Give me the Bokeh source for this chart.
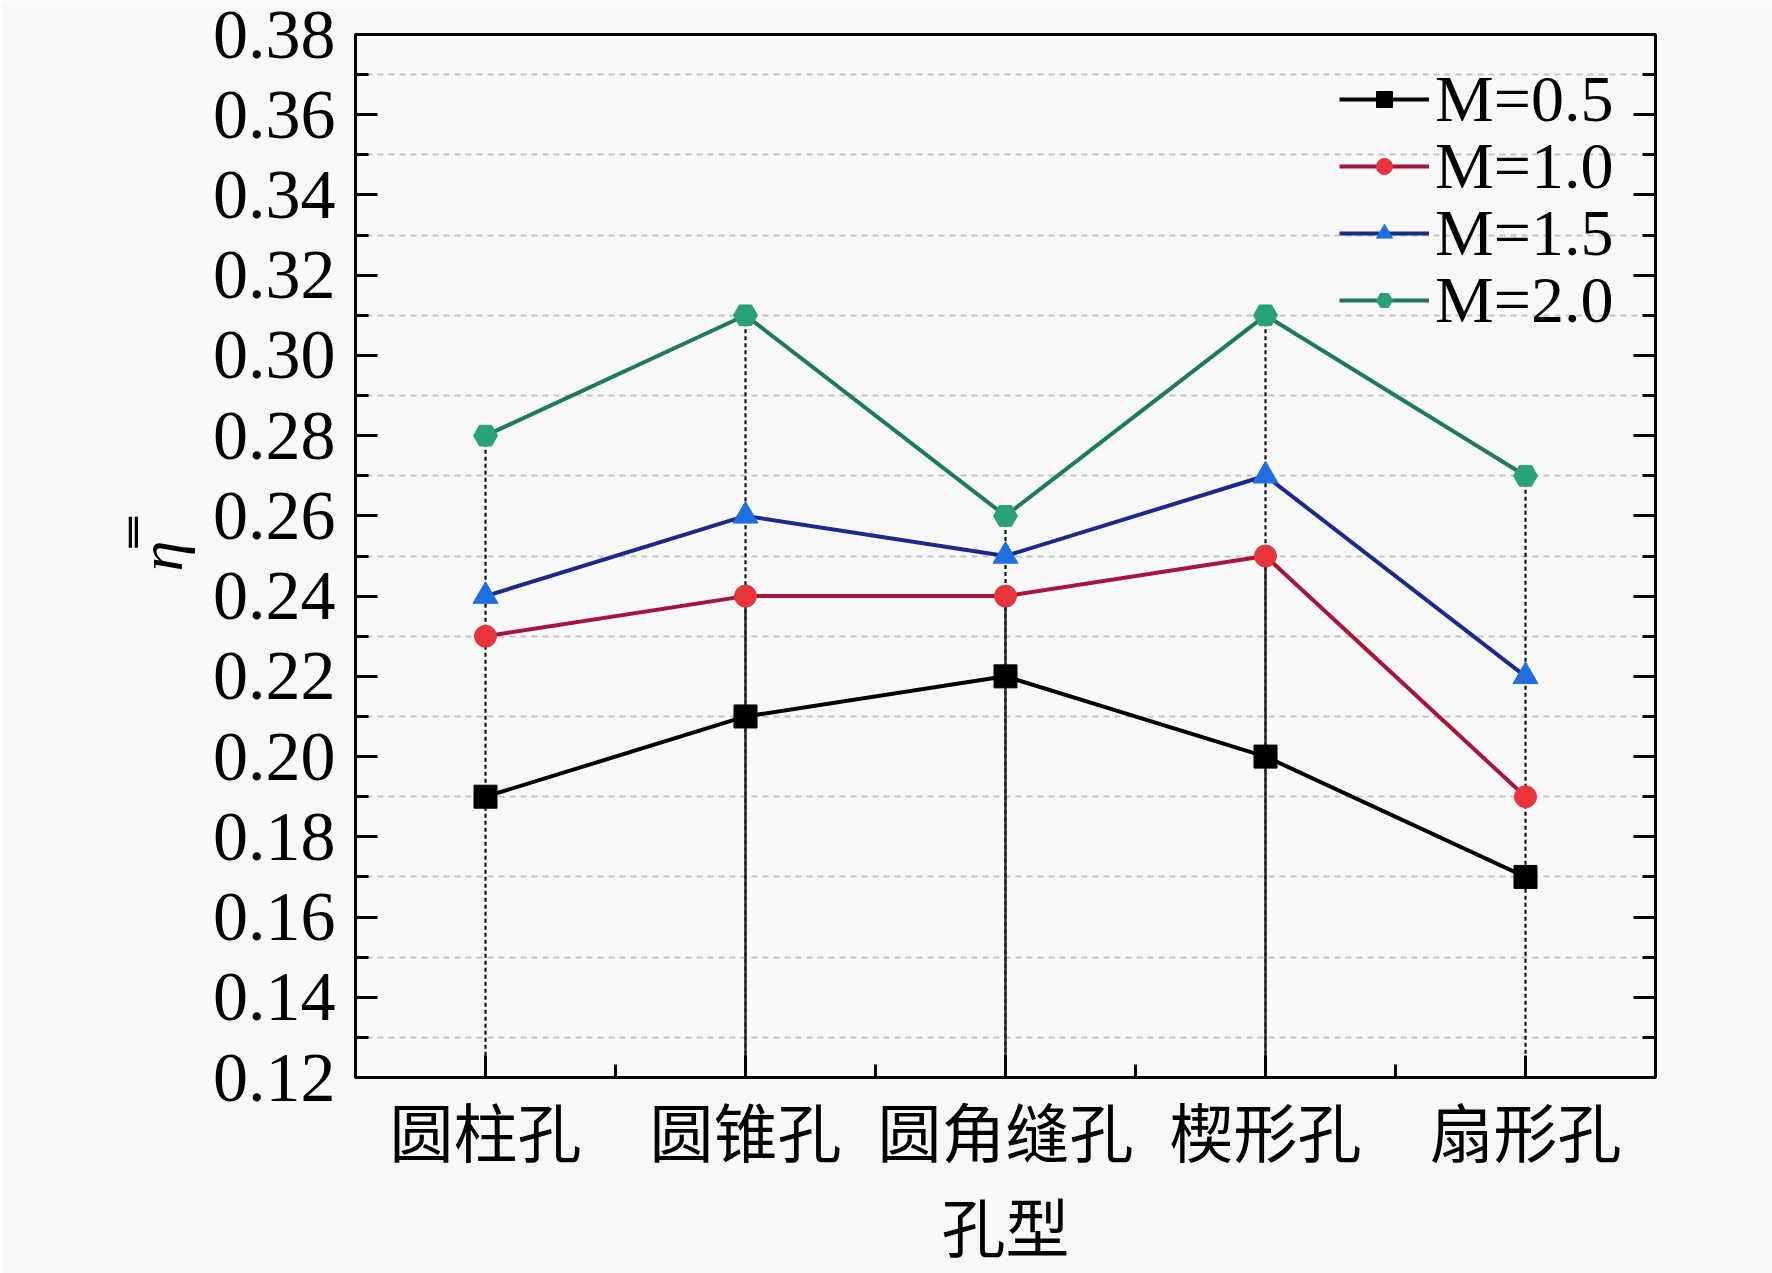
from bokeh.plotting import figure
from bokeh.models import FixedTicker, LinearAxis, Range1d, Legend, LegendItem, ColumnDataSource, CustomJSTickFormatter
from bokeh.embed import file_html
from bokeh.resources import INLINE

categories = ["圆柱孔", "圆锥孔", "圆角缝孔", "楔形孔", "扇形孔"]
x_pos = [1, 2, 3, 4, 5]
m05 = [0.19, 0.21, 0.22, 0.20, 0.17]
m10 = [0.23, 0.24, 0.24, 0.25, 0.19]
m15 = [0.24, 0.26, 0.25, 0.27, 0.22]
m20 = [0.28, 0.31, 0.26, 0.31, 0.27]
series_labels = ["M=0.5", "M=1.0", "M=1.5", "M=2.0"]
y_ticks = [0.12, 0.14, 0.16, 0.18, 0.20, 0.22, 0.24, 0.26, 0.28, 0.30, 0.32, 0.34, 0.36, 0.38]
y_minor = [0.13, 0.15, 0.17, 0.19, 0.21, 0.23, 0.25, 0.27, 0.29, 0.31, 0.33, 0.35, 0.37]
x_minor = [1.5, 2.5, 3.5, 4.5]
solid_drop = [False, True, True, True, False]

BG = "#f8f8f8"
SERIF = "Liberation Serif"
CJK = "Noto Sans CJK SC"

p = figure(width=1772, height=1273, output_backend="svg", toolbar_location=None,
           x_range=Range1d(0.5, 5.5), y_range=Range1d(0.12, 0.38),
           min_border_left=355, min_border_right=117, min_border_top=34, min_border_bottom=196,
           background_fill_color=BG, border_fill_color=BG)
p.outline_line_color = "black"
p.outline_line_width = 3

yt = FixedTicker(ticks=y_ticks, minor_ticks=y_minor)
xt = FixedTicker(ticks=x_pos, minor_ticks=x_minor)

p.xaxis.ticker = xt
p.yaxis.ticker = yt
p.xaxis.major_label_overrides = {x: c for x, c in zip(x_pos, categories)}
p.yaxis.major_label_overrides = {v: f"{v:.2f}" for v in y_ticks}

for ax in (p.xaxis[0], p.yaxis[0]):
    ax.axis_line_width = 3
    ax.major_tick_line_width = 3
    ax.minor_tick_line_width = 3
    ax.major_tick_in = 22
    ax.major_tick_out = 0
    ax.minor_tick_in = 13
    ax.minor_tick_out = 0
    ax.major_label_text_color = "black"
    ax.axis_label_text_color = "black"
    ax.axis_label_text_font_style = "normal"

p.yaxis.major_label_text_font = SERIF
p.yaxis.major_label_text_font_size = "70px"
p.yaxis.major_label_standoff = 20
p.yaxis.axis_label = "η̿"
p.yaxis.axis_label_text_font = SERIF
p.yaxis.axis_label_text_font_style = "italic"
p.yaxis.axis_label_text_font_size = "62px"
p.yaxis.axis_label_standoff = 15

p.xaxis.major_label_text_font = CJK
p.xaxis.major_label_text_font_size = "64px"
p.xaxis.major_label_standoff = 5
p.xaxis.axis_label = "孔型"
p.xaxis.axis_label_text_font = CJK
p.xaxis.axis_label_text_font_size = "64px"
p.xaxis.axis_label_standoff = 0

ry = LinearAxis(ticker=yt, formatter=CustomJSTickFormatter(code="return ''"), axis_line_width=3,
                major_tick_line_width=3, minor_tick_line_width=3, major_label_standoff=0,
                major_tick_in=22, major_tick_out=0, minor_tick_in=13, minor_tick_out=0)
p.add_layout(ry, "right")

p.xgrid.grid_line_color = None
p.ygrid.ticker = yt
p.ygrid.grid_line_color = None
p.ygrid.minor_grid_line_color = "#c4c4c4"
p.ygrid.minor_grid_line_width = 2
p.ygrid.minor_grid_line_dash = "6 5"

# drop lines
bottom = [0.12] * len(x_pos)
p.segment(x0=x_pos, y0=m20, x1=x_pos, y1=bottom, line_color="#111111", line_width=2.2, line_dash="4 3")
sx = [x for x, s in zip(x_pos, solid_drop) if s]
sy = [y for y, s in zip(m10, solid_drop) if s]
p.segment(x0=sx, y0=sy, x1=sx, y1=[0.12] * len(sx), line_color="#222222", line_width=2.4)

series = [
    (m05, "#000000", "#000000", "square", 23),
    (m10, "#a8143c", "#e8343c", "circle", 22),
    (m15, "#1a2a8c", "#1f6fe0", "triangle", 25),
    (m20, "#1f7a5a", "#2aa179", "hex", 24),
]
# legend rows: one small legend per series, stacked with a fixed row pitch
LEG_X = 984
LEG_Y0 = 940
LEG_STEP = 67
for i, ((vals, lc, mc, mk, sz), lab) in enumerate(zip(series, series_labels)):
    src = ColumnDataSource(dict(x=x_pos, y=vals))
    r1 = p.line("x", "y", source=src, line_color=lc, line_width=4)
    r2 = p.scatter("x", "y", source=src, marker=mk, size=sz, fill_color=mc, line_color=mc)
    leg = Legend(items=[LegendItem(label=lab, renderers=[r1, r2])],
                 location=(LEG_X, LEG_Y0 - i * LEG_STEP))
    leg.background_fill_alpha = 0
    leg.border_line_color = None
    leg.label_text_font = SERIF
    leg.label_text_font_size = "66px"
    leg.label_text_color = "black"
    leg.glyph_width = 90
    leg.glyph_height = 40
    leg.spacing = 0
    leg.padding = 0
    leg.margin = 0
    leg.label_standoff = 6
    p.add_layout(leg)

open("out.html", "w").write(file_html(p, INLINE))
